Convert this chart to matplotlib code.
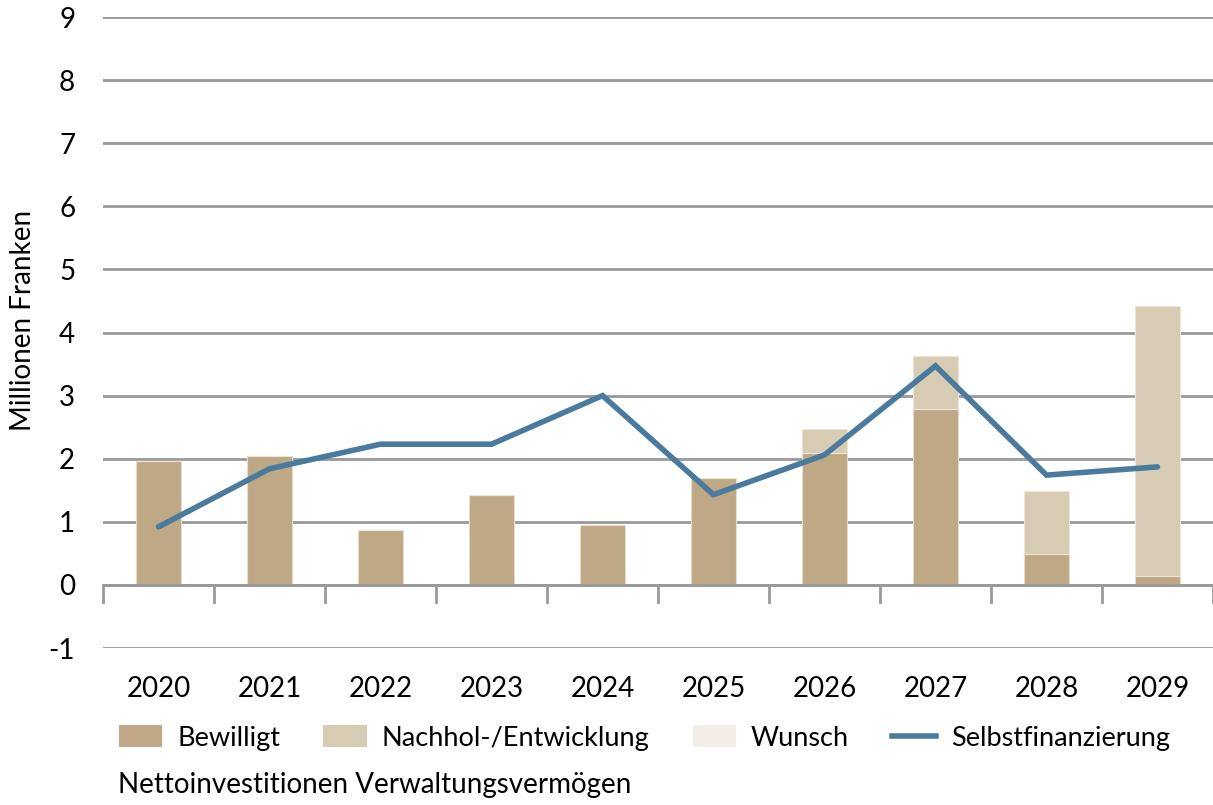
import matplotlib
matplotlib.use("Agg")
import matplotlib.pyplot as plt
from matplotlib.patches import Patch
from matplotlib.lines import Line2D
import numpy as np

plt.rcParams['font.family'] = ['Lato', 'DejaVu Sans']
plt.rcParams['axes.unicode_minus'] = False

years = ['2020', '2021', '2022', '2023', '2024', '2025', '2026', '2027', '2028', '2029']
bewilligt = [1.96, 2.04, 0.87, 1.43, 0.95, 1.70, 2.09, 2.79, 0.49, 0.14]
nachhol = [0.0, 0.0, 0.0, 0.0, 0.0, 0.0, 0.38, 0.84, 1.00, 4.28]
wunsch = [0.0] * 10
selbst = [0.92, 1.84, 2.23, 2.23, 3.00, 1.43, 2.06, 3.47, 1.74, 1.87]

c_bew = '#BFA885'
c_nach = '#D8CBB4'
c_wun = '#F2EDE6'
c_line = '#4A7A9E'
c_grid = '#999999'
FS = 20

fig = plt.figure(figsize=(12.13, 8.05), dpi=100)
ax = fig.add_axes([103/1213, 1-648/805, 1110/1213, (648-17)/805])

x = np.arange(len(years))
w = 0.4
b1 = np.array(bewilligt)
b2 = np.array(nachhol)
ax.bar(x, b1, w, color=c_bew, edgecolor='#E6DCCB', linewidth=0.8, zorder=2)
ax.bar(x, b2, w, bottom=b1, color=c_nach, edgecolor='#ECE4D6', linewidth=0.8, zorder=2)
ax.bar(x, wunsch, w, bottom=b1 + b2, color=c_wun, linewidth=0, zorder=2)
ax.plot(x, selbst, color=c_line, linewidth=4, solid_capstyle='round', solid_joinstyle='miter', zorder=3)

ax.set_xlim(-0.5, len(years) - 0.5)
ax.set_ylim(-1, 9)
ax.set_yticks(range(-1, 10))
ax.yaxis.grid(True, color=c_grid, linewidth=2)
ax.set_axisbelow(True)
for s in ax.spines.values():
    s.set_visible(False)

# zero axis line with category ticks
ax.axhline(0, color=c_grid, linewidth=2, zorder=2.5)
for b in np.arange(-0.5, len(years), 1.0):
    ax.plot([b, b], [0, -0.27], color=c_grid, linewidth=2, clip_on=False, zorder=2.5)

ax.tick_params(axis='y', length=0, labelsize=FS, pad=20)
ax.tick_params(axis='x', length=0, labelsize=FS, pad=20)
ax.set_xticks(x)
ax.set_xticklabels(years)
fig.text(23/1213, 1-320/805, 'Millionen Franken', rotation=90, fontsize=FS,
         ha='center', va='center')

handles = [Patch(facecolor=c_bew, edgecolor='none'),
           Patch(facecolor=c_nach, edgecolor='none'),
           Patch(facecolor=c_wun, edgecolor='none'),
           Line2D([0], [0], color=c_line, linewidth=4)]
labels = ['Bewilligt', 'Nachhol-/Entwicklung', 'Wunsch', 'Selbstfinanzierung']
fig.legend(handles, labels, loc='center left', bbox_to_anchor=(108/1213, 1-738/805),
           ncol=4, frameon=False, fontsize=19.5, handlelength=1.6, handleheight=0.85,
           handletextpad=0.55, columnspacing=1.6, borderaxespad=0)
fig.text(118/1213, 1-785/805, 'Nettoinvestitionen Verwaltungsvermögen', fontsize=FS,
         va='center', ha='left')

fig.savefig('out.png', dpi=100)
